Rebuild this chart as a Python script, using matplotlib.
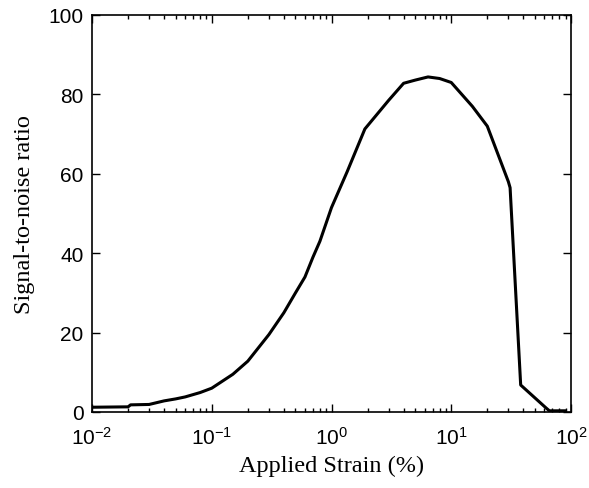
import matplotlib
matplotlib.use('Agg')
import matplotlib.pyplot as plt
from matplotlib.ticker import LogLocator, FixedLocator

plt.rcParams['mathtext.fontset'] = 'custom'
plt.rcParams['mathtext.rm'] = 'Liberation Sans'
plt.rcParams['mathtext.it'] = 'Liberation Sans'
plt.rcParams['mathtext.default'] = 'rm'

# strain (%) and signal-to-noise ratio
strain = [0.01, 0.02, 0.021, 0.03, 0.04, 0.05, 0.06, 0.08, 0.1, 0.15, 0.2, 0.3,
          0.4, 0.5, 0.6, 0.7, 0.8, 1.0, 1.35, 1.9, 3.0, 4.0, 5.0, 6.4, 8.0, 10.0,
          15.0, 20.0, 30.0, 31.0, 38.0, 62.0, 66.0, 90.0]
snr = [1.2, 1.3, 1.8, 1.9, 2.8, 3.3, 3.8, 4.9, 6.0, 9.5, 12.8, 19.5,
       25.0, 30.0, 34.0, 39.0, 43.0, 51.5, 60.5, 71.3, 78.5, 82.8, 83.6, 84.4, 84.0, 83.0,
       77.0, 72.0, 58.0, 56.5, 6.8, 1.0, 0.3, 0.3]

yticks = [0, 20, 40, 60, 80, 100]

fig = plt.figure(figsize=(5.89, 4.89), dpi=100)
ax = fig.add_axes([92/589, 1 - 413/489, 479/589, 397/489])

ax.plot(strain, snr, color='black', linewidth=2.2)

ax.set_xscale('log')
ax.set_xlim(1e-2, 1e2)
ax.set_ylim(0, 100)
ax.yaxis.set_major_locator(FixedLocator(yticks))
ax.xaxis.set_major_locator(LogLocator(base=10, numticks=10))
ax.xaxis.set_minor_locator(LogLocator(base=10, subs=range(2, 10), numticks=10))

ax.tick_params(which='both', direction='in', top=True, right=True)
ax.tick_params(which='major', length=6, width=1)
ax.tick_params(which='minor', length=3, width=1)
for s in ax.spines.values():
    s.set_linewidth(1.2)

tick_font = ['Liberation Sans', 'DejaVu Sans']
for lab in ax.get_xticklabels() + ax.get_yticklabels():
    lab.set_family(tick_font)
    lab.set_fontsize(15)
ax.tick_params(axis='x', pad=10)
ax.tick_params(axis='y', pad=6)

ax.set_xlabel('Applied Strain (%)', family='Liberation Serif', fontsize=17.5, labelpad=5)
ax.set_ylabel('Signal-to-noise ratio', family='Liberation Serif', fontsize=17.5, labelpad=10)

fig.savefig('out.png', dpi=100)
